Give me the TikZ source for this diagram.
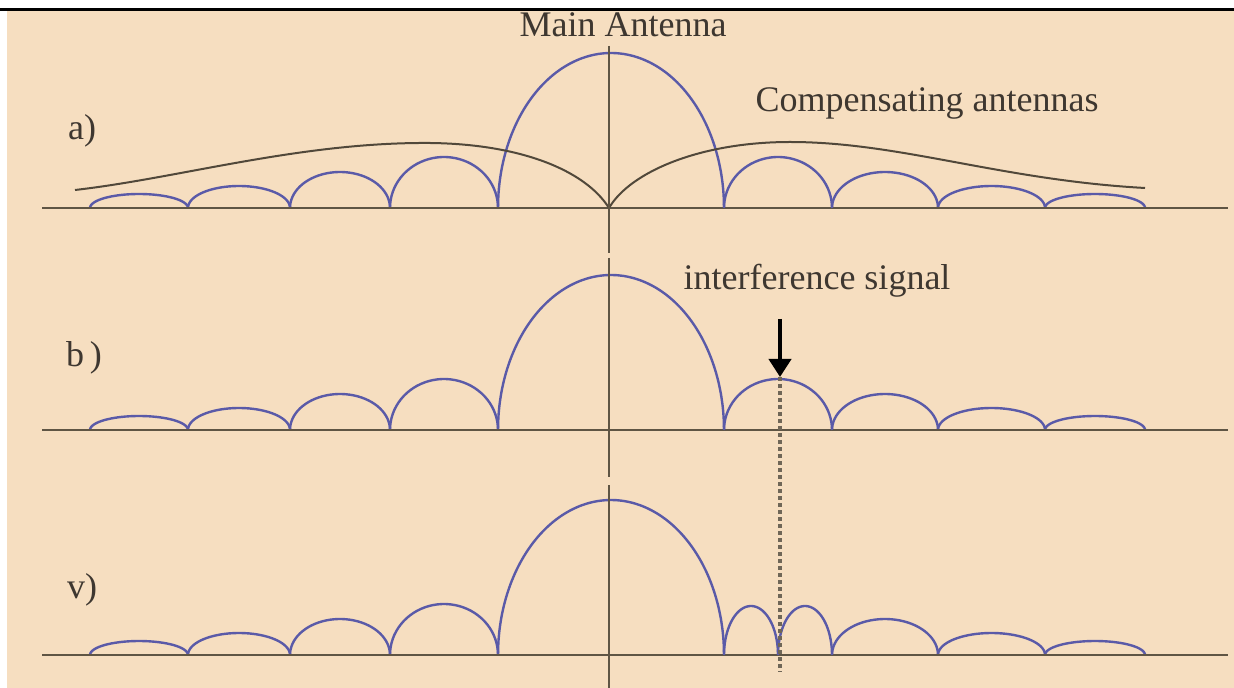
\documentclass[tikz,border=0pt]{standalone}
\usepackage{fontspec}
\setmainfont{Liberation Serif}
\usetikzlibrary{arrows.meta}

\definecolor{paper}{RGB}{246,222,192}
\definecolor{lobe}{RGB}{90,90,168}
\definecolor{axis}{RGB}{95,85,68}
\definecolor{ink}{RGB}{62,55,48}

\begin{document}
\begin{tikzpicture}[x=0.5pt, y=-0.5pt,
    lbl/.style={font=\fontsize{18}{20}\selectfont, text=ink, inner sep=0pt, anchor=base},
    lobeline/.style={draw=lobe, line width=1.2pt},
    xaxis/.style={draw=axis, line width=1.3pt},
    comp/.style={draw=axis!85!black, line width=1pt},
    sigarrow/.style={line width=2pt, -{Triangle[width=11pt,length=9pt]}},
    marker/.style={draw=axis!90, line width=1.6pt, dash pattern=on 2pt off 1.5pt}]
    \useasboundingbox (0,0) rectangle (1234,688);
    \fill[white] (0,0) rectangle (1234,688);
    \fill[paper] (7,11) rectangle (1234,688);
    \draw[line width=1.5pt] (0,9.5) -- (1234,9.5);

    % side lobes and main lobe, same in all three panels
    \foreach \base in {208,430,655} {
        \foreach \xa/\xb/\h in {90/188/14, 188/290/22, 290/390/36, 390/498/51, 498/724/155, 832/938/36, 938/1045/22, 1045/1145/14}
            \draw[lobeline] plot[variable=\t, domain=0:180, samples=40, smooth]
                ({\xa + (\xb-\xa)/2*(1-cos(\t))}, {\base - \h*sin(\t)});
        \draw[xaxis] (42,\base) -- (1228,\base);
    }
    % first right side lobe: whole in a) and b), split in v)
    \foreach \base/\xa/\xb/\h in {208/724/832/51, 430/724/832/51, 655/724/778/49, 655/778/832/49}
        \draw[lobeline] plot[variable=\t, domain=0:180, samples=40, smooth]
            ({\xa + (\xb-\xa)/2*(1-cos(\t))}, {\base - \h*sin(\t)});

    % compensating antennas
    \draw[comp] (75,190) .. controls (180,178) and (300,142) .. (430,143)
        .. controls (520,144) and (585,170) .. (609,208);
    \draw[comp] (609,208) .. controls (630,172) and (700,142) .. (790,142)
        .. controls (900,142) and (1000,180) .. (1145,188);

    % centre line
    \draw[xaxis, line width=1pt] (609,46) -- (609,253);
    \draw[xaxis, line width=1pt] (609,258) -- (609,477);
    \draw[xaxis, line width=1pt] (609,485) -- (609,688);

    \node[lbl] (main) at (623,37) {Main Antenna};
    \node[lbl] (comptext) at (927,112) {Compensating antennas};
    \node[lbl] (inttext) at (817,290) {interference signal};
    \node[lbl] (pa) at (82,140) {a)};
    \node[lbl] (pb) at (84,367) {b\,)};
    \node[lbl] (pv) at (82,598) {v)};

    \coordinate (arrowtop) at (780,319);
    \coordinate (peak) at (780,377);
    \coordinate (markend) at (780,672);
    \draw[marker] (peak) -- (markend);
    \draw[sigarrow] (arrowtop) -- (peak);
\end{tikzpicture}
\end{document}
